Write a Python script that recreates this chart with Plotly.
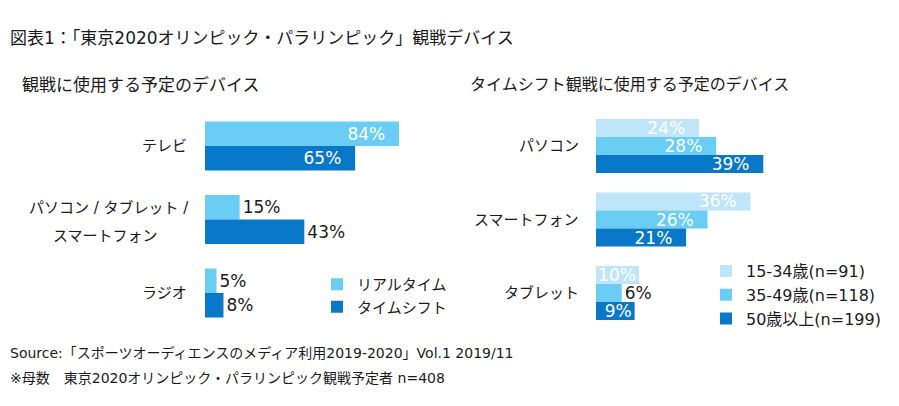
import plotly.graph_objects as go

# ---------------- data ----------------
left_categories = ["テレビ", "パソコン / タブレット /<br>スマートフォン", "ラジオ"]
left_series = ["リアルタイム", "タイムシフト"]
left_realtime = [84, 15, 5]
left_timeshift = [65, 43, 8]

right_categories = ["パソコン", "スマートフォン", "タブレット"]
right_series = ["15-34歳(n=91)", "35-49歳(n=118)", "50歳以上(n=199)"]
right_age_15_34 = [24, 36, 10]
right_age_35_49 = [28, 26, 6]
right_age_50_up = [39, 21, 9]

title_text = "図表1：「東京2020オリンピック・パラリンピック」観戦デバイス"
left_title = "観戦に使用する予定のデバイス"
right_title = "タイムシフト観戦に使用する予定のデバイス"
source_lines = [
    "Source:「スポーツオーディエンスのメディア利用2019-2020」Vol.1 2019/11",
    "※母数　東京2020オリンピック・パラリンピック観戦予定者 n=408",
]

# ---------------- style ----------------
# the page body has an 8px margin, so the figure is drawn 16px narrower/shorter
PAGE_OFF = 8
W, H = 883, 390
FONT = "DejaVu Sans, Noto Sans CJK JP, sans-serif"
C_LIGHTEST = "#BFE6F8"
C_LIGHT = "#69CDF4"
C_DARK = "#0A78C8"
TXT = "#1a1a1a"
NB = "\u00a0\u00a0"


def px_x(p):
    return (p - PAGE_OFF) / W


def px_y(p):
    return 1 - (p - PAGE_OFF) / H


fig = go.Figure()


def add_bar(vals, name, color, xaxis, yaxis, cats, offset, width, positions, legend, pads):
    templates = [("%{x}%" + NB) if (pos == "inside" and pad) else "%{x}%"
                 for pos, pad in zip(positions, pads)]
    fig.add_trace(go.Bar(
        y=cats, x=vals, name=name, orientation="h",
        marker=dict(color=color, line=dict(width=0)),
        xaxis=xaxis, yaxis=yaxis,
        offset=offset, width=width,
        texttemplate=templates, textposition=positions,
        insidetextanchor="end", textangle=0, constraintext="none",
        insidetextfont=dict(color="white", size=17, family=FONT),
        outsidetextfont=dict(color=TXT, size=17, family=FONT),
        cliponaxis=False,
        legend=legend, hoverinfo="skip",
    ))


# left chart
lw = 0.333
add_bar(left_realtime, left_series[0], C_LIGHT, "x", "y", left_categories,
        -lw, lw, ["inside", "outside", "outside"], "legend", [True, True, True])
add_bar(left_timeshift, left_series[1], C_DARK, "x", "y", left_categories,
        0, lw, ["inside", "outside", "outside"], "legend", [True, True, True])

# right chart
rw = 0.245
add_bar(right_age_15_34, right_series[0], C_LIGHTEST, "x2", "y2", right_categories,
        -1.5 * rw, rw, ["inside", "inside", "inside"], "legend2", [True, True, False])
add_bar(right_age_35_49, right_series[1], C_LIGHT, "x2", "y2", right_categories,
        -0.5 * rw, rw, ["inside", "inside", "outside"], "legend2", [True, True, True])
add_bar(right_age_50_up, right_series[2], C_DARK, "x2", "y2", right_categories,
        0.5 * rw, rw, ["inside", "inside", "inside"], "legend2", [True, True, False])

ydom = [px_y(329.75), px_y(109.25)]

annotations = []
annotations.append(dict(text=title_text, x=px_x(8), y=px_y(38), xref="paper", yref="paper",
                        xanchor="left", yanchor="middle", showarrow=False,
                        font=dict(size=17, color=TXT, family=FONT)))
annotations.append(dict(text=left_title, x=px_x(20), y=px_y(85), xref="paper", yref="paper",
                        xanchor="left", yanchor="middle", showarrow=False,
                        font=dict(size=17, color=TXT, family=FONT)))
annotations.append(dict(text=right_title, x=px_x(468), y=px_y(85), xref="paper", yref="paper",
                        xanchor="left", yanchor="middle", showarrow=False,
                        font=dict(size=16, color=TXT, family=FONT)))
for i, line in enumerate(source_lines):
    annotations.append(dict(text=line, x=px_x(8), y=px_y(353 + 25 * i), xref="paper", yref="paper",
                            xanchor="left", yanchor="middle", showarrow=False,
                            font=dict(size=14, color=TXT, family=FONT)))

# category labels
for cat in left_categories:
    parts = cat.split("<br>")
    if len(parts) == 1:
        annotations.append(dict(text=cat, x=px_x(189), y=cat, xref="paper", yref="y",
                                xanchor="right", yanchor="middle", showarrow=False,
                                font=dict(size=15, color=TXT, family=FONT)))
    else:
        annotations.append(dict(text=parts[0], x=px_x(191), y=cat, xref="paper", yref="y",
                                xanchor="right", yanchor="middle", yshift=12, showarrow=False,
                                font=dict(size=15, color=TXT, family=FONT)))
        annotations.append(dict(text=parts[1], x=px_x(160), y=cat, xref="paper", yref="y",
                                xanchor="right", yanchor="middle", yshift=-16, showarrow=False,
                                font=dict(size=15, color=TXT, family=FONT)))
for cat in right_categories:
    annotations.append(dict(text=cat, x=px_x(581), y=cat, xref="paper", yref="y2",
                            xanchor="right", yanchor="middle", showarrow=False,
                            font=dict(size=15, color=TXT, family=FONT)))

fig.update_layout(
    width=W, height=H,
    margin=dict(l=0, r=0, t=0, b=0),
    paper_bgcolor="white", plot_bgcolor="white",
    barmode="overlay",
    font=dict(family=FONT, color=TXT),
    xaxis=dict(domain=[px_x(205), px_x(205 + 2.31 * 100)], range=[0, 100], visible=False),
    yaxis=dict(domain=ydom, autorange="reversed", visible=False, anchor="x"),
    xaxis2=dict(domain=[px_x(596), px_x(596 + 4.29 * 50)], range=[0, 50], visible=False, anchor="y2"),
    yaxis2=dict(domain=ydom, autorange="reversed", visible=False, anchor="x2"),
    annotations=annotations,
    legend=dict(x=px_x(317), y=px_y(268), xanchor="left", yanchor="top",
                font=dict(size=15, color=TXT, family=FONT), bgcolor="rgba(0,0,0,0)",
                itemclick=False, itemdoubleclick=False),
    legend2=dict(x=px_x(706), y=px_y(254), xanchor="left", yanchor="top",
                 font=dict(size=16, color=TXT, family=FONT), bgcolor="rgba(0,0,0,0)",
                 itemclick=False, itemdoubleclick=False),
    showlegend=True,
)

fig.write_html("out.html")
